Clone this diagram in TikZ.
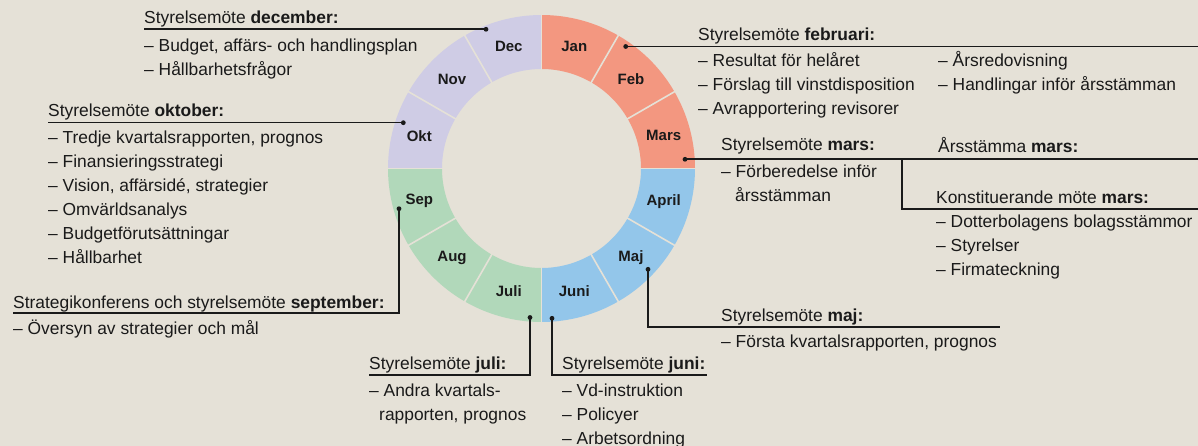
\documentclass[tikz,border=0pt]{standalone}
\usepackage{fontspec}
\setmainfont{Liberation Sans}
\definecolor{bgc}{HTML}{E5E1D7}
\definecolor{ink}{HTML}{1A1A1A}
\definecolor{salmon}{HTML}{F39780}
\definecolor{skyb}{HTML}{93C6EA}
\definecolor{mint}{HTML}{B1D8BA}
\definecolor{lav}{HTML}{CFCCE5}
\begin{document}
\begin{tikzpicture}[x=1pt,y=-1pt,
  txt/.style={anchor=base west, inner sep=0pt, text=ink, font=\fontsize{17.4}{20}\selectfont},
  mon/.style={inner sep=0pt, text=ink, font=\bfseries\fontsize{15}{17}\selectfont},
  conn/.style={draw=ink, line width=1.6pt},
  sep/.style={draw=bgc, line width=1.6pt}]
\fill[bgc] (0,0) rectangle (1198,446);
\useasboundingbox (0,0) rectangle (1198,446);
% ring
\begin{scope}[shift={(541.5,168.5)}, y=1pt]
  \foreach \i/\c in {0/salmon,1/salmon,2/salmon,3/skyb,4/skyb,5/skyb,6/mint,7/mint,8/mint,9/lav,10/lav,11/lav}{
    \pgfmathsetmacro\sa{90-30*\i}
    \pgfmathsetmacro\sb{60-30*\i}
    \fill[\c] (\sa:153.5) arc[start angle=\sa, end angle=\sb, radius=153.5] -- (\sb:99.5) arc[start angle=\sb, end angle=\sa, radius=99.5] -- cycle;
  }
  \foreach \a in {0,30,...,330} \draw[sep] (\a:98) -- (\a:155);
  \foreach \i/\m in {0/Jan,1/Feb,2/Mars,3/April,4/Maj,5/Juni,6/Juli,7/Aug,8/Sep,9/Okt,10/Nov,11/Dec}
    \node[mon] (m\i) at ({75-30*\i}:126.5) {\m};
\end{scope}
% connector points
\coordinate (dDec) at (486,29.3);   \coordinate (eDec) at (144,29.3);
\coordinate (dFeb) at (625.7,46.5); \coordinate (eFeb) at (1198,46.5);
\coordinate (dMars) at (685,159.3); \coordinate (eMars) at (1198,159.3);
\coordinate (bMars) at (901.7,159.3); \coordinate (eKonst) at (1198,209);
\coordinate (dOkt) at (403.3,122.7); \coordinate (eOkt) at (48,122.7);
\coordinate (dSep) at (399,208.7);  \coordinate (eSep) at (13,312.7);
\coordinate (dMaj) at (648,269.3);  \coordinate (eMaj) at (1000,326.7);
\coordinate (dJuli) at (530,317.5); \coordinate (eJuli) at (369,375);
\coordinate (dJuni) at (552,318.3); \coordinate (eJuni) at (707,375);
\draw[conn] (dDec) -- (eDec);
\draw[conn] (dFeb) -- (eFeb);
\draw[conn] (dMars) -- (eMars);
\draw[conn] (bMars) |- (eKonst);
\draw[conn] (dOkt) -- (eOkt);
\draw[conn] (dSep) |- (eSep);
\draw[conn] (dMaj) |- (eMaj);
\draw[conn] (dJuli) |- (eJuli);
\draw[conn] (dJuni) |- (eJuni);
\foreach \d in {dDec,dFeb,dMars,dOkt,dSep,dMaj,dJuli,dJuni} \fill[ink] (\d) circle[radius=2.4pt];
% December
\node[txt] (hDec) at (144,24) {Styrelsemöte \textbf{december:}};
\node[txt] (dec1) at (144,51.5) {– Budget, affärs- och handlingsplan};
\node[txt] (dec2) at (144,75.5) {– Hållbarhetsfrågor};
% Oktober
\node[txt] (hOkt) at (48,116.7) {Styrelsemöte \textbf{oktober:}};
\node[txt] (okt1) at (48,143.3) {– Tredje kvartalsrapporten, prognos};
\node[txt] (okt2) at (48,167.3) {– Finansieringsstrategi};
\node[txt] (okt3) at (48,191.3) {– Vision, affärsidé, strategier};
\node[txt] (okt4) at (48,215.3) {– Omvärldsanalys};
\node[txt] (okt5) at (48,239.3) {– Budgetförutsättningar};
\node[txt] (okt6) at (48,263) {– Hållbarhet};
% September
\node[txt] (hSep) at (13,308.3) {Strategikonferens och styrelsemöte \textbf{september:}};
\node[txt] (sep1) at (13,334) {– Översyn av strategier och mål};
% Februari
\node[txt] (hFeb) at (698,40.7) {Styrelsemöte \textbf{februari:}};
\node[txt] (feb1) at (698,66.7) {– Resultat för helåret};
\node[txt] (feb2) at (698,90.7) {– Förslag till vinstdisposition};
\node[txt] (feb3) at (698,114.7) {– Avrapportering revisorer};
\node[txt] (feb4) at (938,66.7) {– Årsredovisning};
\node[txt] (feb5) at (938,90.7) {– Handlingar inför årsstämman};
% Mars
\node[txt] (hMars) at (721,151) {Styrelsemöte \textbf{mars:}};
\node[txt] (mars1) at (721,177.7) {– Förberedelse inför};
\node[txt] (mars2) at (735,201.7) {årsstämman};
\node[txt] (hArs) at (938,152.7) {Årsstämma \textbf{mars:}};
\node[txt] (hKonst) at (936,203.3) {Konstituerande möte \textbf{mars:}};
\node[txt] (k1) at (936,227.7) {– Dotterbolagens bolagsstämmor};
\node[txt] (k2) at (936,251.7) {– Styrelser};
\node[txt] (k3) at (936,275.7) {– Firmateckning};
% Maj
\node[txt] (hMaj) at (721,321) {Styrelsemöte \textbf{maj:}};
\node[txt] (maj1) at (721,347.7) {– Första kvartalsrapporten, prognos};
% Juli
\node[txt] (hJuli) at (369,369) {Styrelsemöte \textbf{juli:}};
\node[txt] (juli1) at (369,396.7) {– Andra kvartals-};
\node[txt] (juli2) at (379,420.5) {rapporten, prognos};
% Juni
\node[txt] (hJuni) at (562,369) {Styrelsemöte \textbf{juni:}};
\node[txt] (juni1) at (562,396.7) {– Vd-instruktion};
\node[txt] (juni2) at (562,420.5) {– Policyer};
\node[txt] (juni3) at (562,444.3) {– Arbetsordning};
\end{tikzpicture}
\end{document}
